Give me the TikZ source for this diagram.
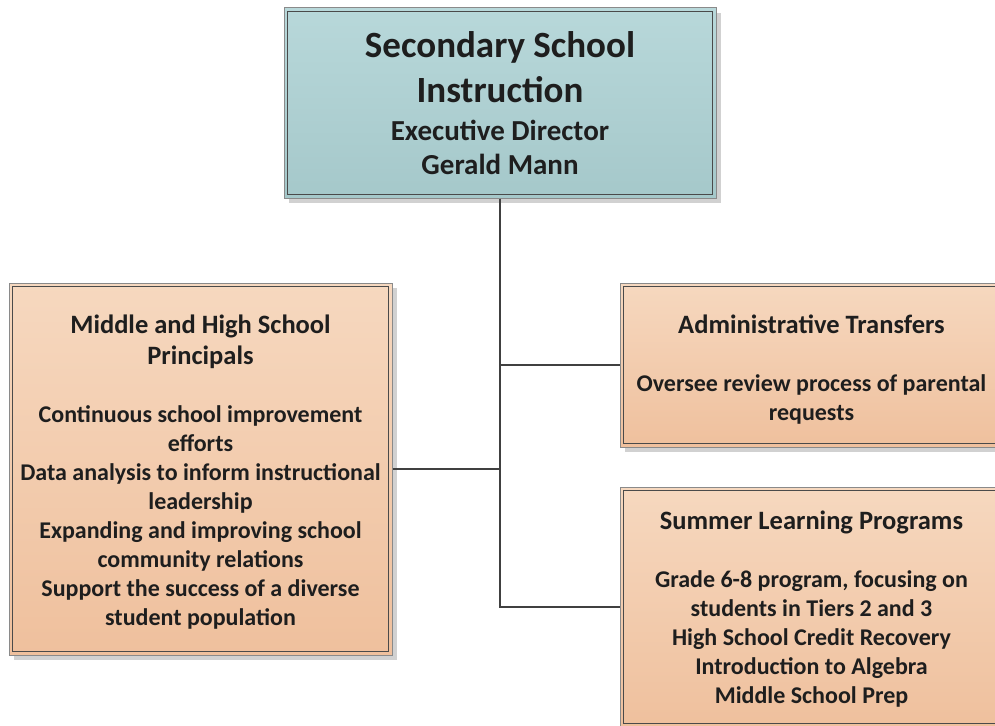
\documentclass[tikz,border=0pt]{standalone}
\usepackage{fontspec}
\setmainfont{Carlito}
\usetikzlibrary{calc,shadows}
\definecolor{tealtop}{HTML}{B8D8DA}
\definecolor{tealbot}{HTML}{A5C8CA}
\definecolor{orgtop}{HTML}{F6D8BF}
\definecolor{orgbot}{HTML}{EFC09D}
\definecolor{outerline}{HTML}{8A8A8A}
\definecolor{innerline}{HTML}{4A4A4A}
\definecolor{connline}{HTML}{404040}
\definecolor{txt}{HTML}{1E1E1E}
\tikzset{
  orgbox/.style={draw=outerline, line width=1pt, inner sep=0pt,
    drop shadow={shadow xshift=5pt, shadow yshift=-5pt, fill=black!18, opacity=1}},
  tealfill/.style={top color=tealtop, bottom color=tealbot},
  orangefill/.style={top color=orgtop, bottom color=orgbot},
  innerframe/.style={draw=innerline, line width=0.9pt},
  conn/.style={draw=connline, line width=1.7pt},
  boxtext/.style={align=center, text=txt, inner sep=0pt},
  bodyfont/.style={font=\fontsize{24}{29}\selectfont\bfseries}
}
\newcommand\innerrect[1]{\draw[innerframe] ($(#1.north west)+(4,4)$) rectangle ($(#1.south east)+(-4,-4)$);}
\newcommand\ttl{\fontsize{26.5}{29}\selectfont}
\newcommand\sub{\fontsize{29}{34}\selectfont}
\begin{document}
\begin{tikzpicture}[x=1pt,y=-1pt]
\useasboundingbox (0,0) rectangle (995,725);
\clip (0,0) rectangle (995,725);
% boxes
\node[orgbox, tealfill, minimum width=432pt, minimum height=190pt] (top) at (500,103) {};
\innerrect{top}
\node[orgbox, orangefill, minimum width=383pt, minimum height=372pt] (left) at (200.5,469) {};
\innerrect{left}
\node[orgbox, orangefill, minimum width=383pt, minimum height=164pt] (adm) at (811.5,365) {};
\innerrect{adm}
\node[orgbox, orangefill, minimum width=383pt, minimum height=240pt] (sum) at (811.5,607) {};
\innerrect{sum}
% texts
\node[boxtext, font=\fontsize{37}{45}\selectfont\bfseries] (toptext) at (top.center)
  {Secondary School\\Instruction\\[-7pt]
   \sub Executive Director\\[-11pt]
   \sub Gerald Mann};
\node[boxtext, bodyfont] (lefttext) at ($(left.center)+(0,3)$)
  {\ttl Middle and High School\\[2pt]\ttl Principals\\[29pt]
   Continuous school improvement\\efforts\\
   Data analysis to inform instructional\\leadership\\
   Expanding and improving school\\community relations\\
   Support the success of a diverse\\student population};
\node[boxtext, bodyfont] (admtext) at ($(adm.center)+(0,4.5)$)
  {\ttl Administrative Transfers\\[29pt]Oversee review process of parental\\requests};
\node[boxtext, bodyfont] (sumtext) at ($(sum.center)+(0,2.5)$)
  {\ttl Summer Learning Programs\\[29pt]
   Grade 6-8 program, focusing on\\students in Tiers 2 and 3\\
   High School Credit Recovery\\Introduction to Algebra\\Middle School Prep};
% connectors
\draw[conn] (top.south) -- (top.south |- sum.west) -- (sum.west);
\draw[conn] (top.south |- adm.west) -- (adm.west);
\draw[conn] (left.east) -- (top.south |- left.east);
\end{tikzpicture}
\end{document}
